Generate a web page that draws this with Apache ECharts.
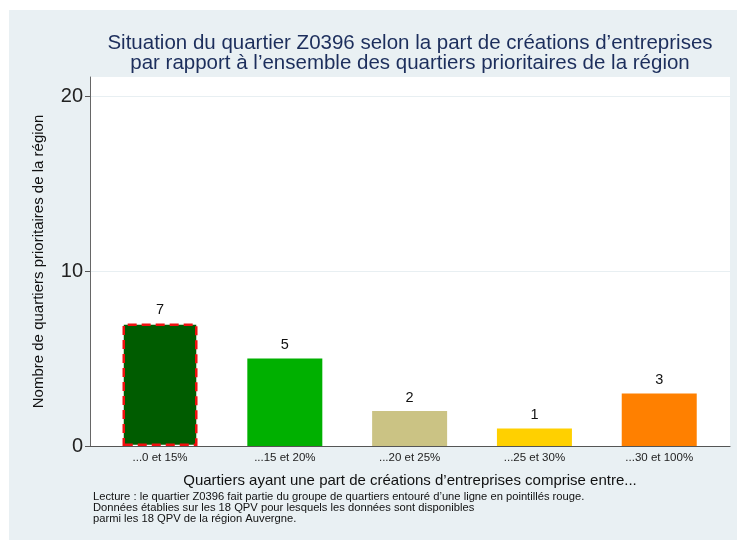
<!DOCTYPE html>
<html>
<head>
<meta charset="utf-8">
<script src="https://cdn.jsdelivr.net/npm/echarts@6/dist/echarts.min.js"></script>
<style>html,body{margin:0;padding:0;background:#fff;}#c{width:737px;height:540px;}</style>
</head>
<body>
<div id="c"></div>
<script>
const categories = ["...0 et 15%", "...15 et 20%", "...20 et 25%", "...25 et 30%", "...30 et 100%"];
const values = [7, 5, 2, 1, 3];
const barColors = ["#005c00", "#00b000", "#cbc384", "#ffd000", "#ff8000"];
const highlighted = 0;
const yTicks = [0, 10, 20];
const titleLines = ["Situation du quartier Z0396 selon la part de créations d\u2019entreprises", "par rapport à l\u2019ensemble des quartiers prioritaires de la région"];
const footLines = ["Lecture : le quartier Z0396 fait partie du groupe de quartiers entouré d\u2019une ligne en pointillés rouge.", "Données établies sur les 18 QPV pour lesquels les données sont disponibles", "parmi les 18 QPV de la région Auvergne."];
const yName = "Nombre de quartiers prioritaires de la région";
const xName = "Quartiers ayant une part de créations d\u2019entreprises comprise entre...";

const font = "'Liberation Sans', Arial, sans-serif";
const chart = echarts.init(document.getElementById('c'), null, {renderer: 'canvas'});
chart.setOption({
  backgroundColor: '#ffffff',
  animation: false,
  textStyle: {fontFamily: font},
  graphic: [
    {type: 'rect', z: -100, shape: {x: 9, y: 10, width: 728, height: 530}, style: {fill: '#e9f0f3'}},
    {type: 'text', left: 93, top: 491, style: {text: footLines.join('\n'), fontSize: 11.2, lineHeight: 11, fill: '#111', fontFamily: font}}
  ],
  title: {
    text: titleLines.join('\n'),
    left: 405, top: 28, textAlign: 'center',
    textStyle: {fontSize: 20.5, fontWeight: 'normal', color: '#1c2e5c', lineHeight: 20, fontFamily: font}
  },
  grid: {left: 90, right: 7, top: 77, bottom: 94, show: true, backgroundColor: '#ffffff', borderWidth: 0},
  xAxis: {
    type: 'value', min: -0.561, max: 4.567,
    axisLine: {show: true, lineStyle: {color: '#555', width: 1.2}},
    axisTick: {show: false},
    splitLine: {show: false},
    axisLabel: {customValues: [0,1,2,3,4], formatter: v => categories[Math.round(v)], fontSize: 11.5, color: '#222', margin: 6, fontFamily: font},
    name: xName, nameLocation: 'middle', nameGap: 27,
    nameTextStyle: {fontSize: 15, color: '#111', fontFamily: font}
  },
  yAxis: {
    type: 'value', min: 0, max: 21.1, interval: 10,
    axisLine: {show: true, onZero: false, lineStyle: {color: '#666', width: 1}},
    axisTick: {show: true, length: 5, lineStyle: {color: '#555'}, customValues: yTicks},
    splitLine: {show: true, lineStyle: {color: '#e8eff2', width: 1}},
    axisLabel: {customValues: yTicks, fontSize: 20, color: '#222', margin: 7, fontFamily: font},
    name: yName, nameLocation: 'middle', nameGap: 44,
    nameTextStyle: {fontSize: 15, color: '#111', fontFamily: font}
  },
  series: [{
    type: 'bar', barWidth: 75,
    data: values.map((v, i) => ({
      value: [i, v],
      itemStyle: i === highlighted
        ? {color: barColors[i], borderColor: '#f01010', borderWidth: 2.5, borderType: [9, 5]}
        : {color: barColors[i]}
    })),
    label: {show: true, position: 'top', distance: 6, fontSize: 14.5, color: '#111', fontFamily: font, formatter: p => p.value[1]}
  }]
});
</script>
</body>
</html>
